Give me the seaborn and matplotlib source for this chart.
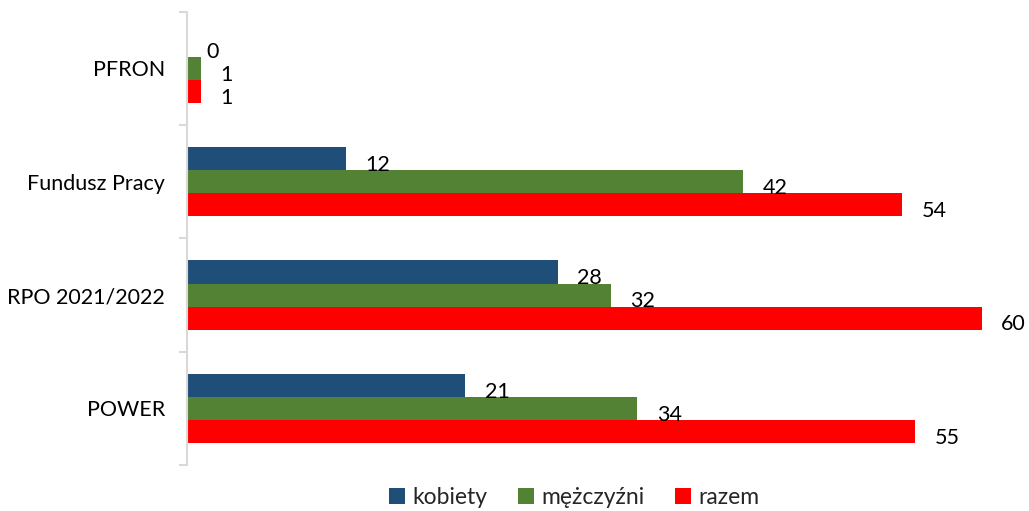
import matplotlib
matplotlib.use("Agg")
import matplotlib.pyplot as plt
import seaborn as sns
import pandas as pd
import numpy as np

categories = ["PFRON", "Fundusz Pracy", "RPO 2021/2022", "POWER"]
series_names = ["kobiety", "mężczyźni", "razem"]
kobiety = [0, 12, 28, 21]
mezczyzni = [1, 42, 32, 34]
razem = [1, 54, 60, 55]
colors = ["#1F4E79", "#548235", "#FF0000"]

sns.set_theme(style="white")
plt.rcParams["font.family"] = ["Lato", "DejaVu Sans"]

rows = []
for name, vals in zip(series_names, [kobiety, mezczyzni, razem]):
    for c, v in zip(categories, vals):
        rows.append({"kategoria": c, "seria": name, "wartość": v})
df = pd.DataFrame(rows)

FS = 15.5

fig = plt.figure(figsize=(10.29, 5.11), dpi=100)
ax = fig.add_axes([0.182, 0.09, 0.772, 0.887])

sns.barplot(data=df, y="kategoria", x="wartość", hue="seria", order=categories,
            hue_order=series_names, palette=colors, orient="h", width=0.61,
            saturation=1, ax=ax, legend=True, linewidth=0, edgecolor="none")

for cont in ax.containers:
    anns = ax.bar_label(cont, labels=[f"{int(v)}" for v in cont.datavalues], padding=14,
                        fontsize=FS, color="black")
    for a in anns:
        a.xyann = (14, -4.5)

ax.set_xlim(0, 60)
ax.set_ylim(3.5, -0.5)
ax.set_xlabel("")
ax.set_ylabel("")
ax.set_xticks([])
ax.tick_params(axis="y", which="major", length=0, labelsize=FS, pad=16, labelcolor="black")
ax.set_yticks(np.arange(-0.5, 4.0, 1.0), minor=True)
ax.tick_params(axis="y", which="minor", length=6, color="#D9D9D9", width=1.5, left=True)
for s in ["top", "right", "bottom"]:
    ax.spines[s].set_visible(False)
ax.spines["left"].set_color("#D9D9D9")
ax.spines["left"].set_linewidth(1.5)

handles, labels = ax.get_legend_handles_labels()
ax.legend(handles, labels, loc="lower center", bbox_to_anchor=(0.558, -0.035),
          bbox_transform=fig.transFigure, ncol=3, frameon=False, fontsize=16.5,
          handlelength=0.7, handleheight=0.7, handletextpad=0.3, columnspacing=1.35)

fig.savefig("out.png", dpi=100)
